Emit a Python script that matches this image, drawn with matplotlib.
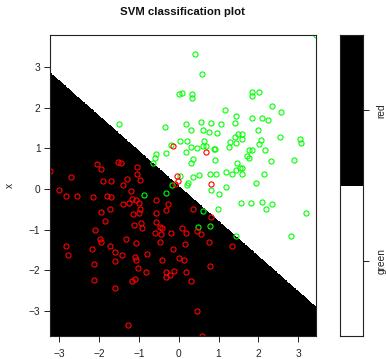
import numpy as np
import matplotlib
matplotlib.use("Agg")
import matplotlib.pyplot as plt
from matplotlib.colors import ListedColormap

plt.rcParams["font.family"] = ["Liberation Sans", "DejaVu Sans"]

# Observations: horizontal axis holds feature "y", vertical axis feature "x"
green_y = [0.40, 0.59, 0.00, 0.08, 0.34, 0.34, 1.85, 1.84, 2.02, 2.34,
           2.56, 1.17, 1.45, 1.83, 2.09, 2.24, -0.35, 0.18, 0.31, 0.55,
           0.61, 0.82, 0.76, 0.96, 1.07, 1.41, 2.00, 1.50, 1.60, 2.54,
           1.41, 1.59, 1.43, 1.29, 1.27, 3.04, 3.08, 2.07, 2.02, 2.17,
           1.76, 1.83, 1.72, 1.77, 2.33, 2.90, 1.47, 1.45, 1.54, 1.59,
           1.34, 1.59, 2.15, 1.95, 1.57, 1.82, 2.10, 2.20, 2.34, 3.20,
           1.44, 2.81, -1.50, 0.03, 0.21, 0.30, 0.46, 0.61, 0.63, 0.68,
           0.89, 0.92, -0.20, -0.33, -0.57, -0.59, -0.65, 0.18, 0.31, 0.37,
           0.91, 0.50, 0.35, 0.23, 0.21, 0.03, 0.78, 0.94, 1.18, 0.82,
           1.01, 1.18, 0.99, -0.88, -0.31, -0.16, 0.61, 0.49, 0.78, 3.45]
green_x = [3.33, 2.83, 2.34, 2.36, 2.34, 2.24, 2.39, 2.28, 2.39, 2.04,
           1.90, 1.95, 1.80, 1.75, 1.75, 1.70, 1.53, 1.60, 1.45, 1.65,
           1.45, 1.63, 1.40, 1.38, 1.60, 1.63, 1.45, 1.35, 1.35, 1.28,
           1.28, 1.23, 1.13, 1.16, 1.03, 1.23, 1.13, 1.21, 1.11, 0.96,
           0.96, 0.96, 0.82, 0.76, 0.69, 0.72, 0.64, 0.47, 0.51, 0.52,
           0.37, 0.37, 0.37, 0.15, -0.34, -0.34, -0.32, -0.49, -0.37, -0.59,
           -1.16, -1.16, 1.60, 1.19, 1.19, 1.03, 1.01, 1.06, 1.18, 1.07,
           0.99, 0.99, 1.09, 0.89, 0.86, 0.76, 0.64, 0.91, 0.64, 0.73,
           0.72, 0.34, 0.29, 0.15, 0.10, 0.33, 0.37, 0.37, 0.41, -0.02,
           -0.12, 0.06, -0.49, -0.15, -0.10, 0.09, -0.54, -0.94, -0.91, 3.79]

red_y = [-3.23, -2.72, -2.06, -1.96, -1.53, -1.46, -1.04, -1.04, -0.97, -1.30,
         -1.40, -1.20, -1.91, -1.71, -3.00, -2.84, -2.57, -2.16, -1.80, -1.71,
         -1.40, -1.26, -1.17, -1.08, -1.00, -0.97, -1.14, -1.00, -1.74, -1.95,
         -1.85, -2.11, -1.13, -0.96, -0.92, -0.58, -0.26, -0.32, -0.57, -0.58,
         -0.47, -0.41, 0.09, 0.36, 0.82, 0.81, -0.04, -0.01, -0.10, -0.14,
         0.69, -0.61, -0.44, -0.20, 0.18, 0.47, 0.55, -0.47, 0.16, 0.76,
         1.33, -0.14, -0.41, 0.01, 0.13, 0.78, -0.33, -0.33, -0.21, -0.13,
         0.19, 0.31, 0.47, 0.59, -1.97, -1.95, -2.84, -2.78, -2.18, -1.73,
         -1.32, -1.07, -1.60, -1.42, -1.10, -1.07, -0.81, -2.13, -1.60, -1.03,
         -0.83, -2.12, -1.09, -1.18, -1.61, -1.28]
red_x = [0.45, 0.30, 0.61, 0.49, 0.66, 0.64, 0.54, 0.37, 0.23, 0.25,
         0.10, -0.05, 0.19, 0.19, -0.02, -0.17, -0.17, -0.20, -0.17, -0.20,
         -0.36, -0.34, -0.24, -0.26, -0.34, -0.49, -0.61, -0.59, -0.49, -0.56,
         -0.78, -1.00, -0.88, -0.84, -0.95, -0.28, -0.37, -0.51, -0.59, -0.81,
         -0.94, -0.95, -0.96, -0.49, -0.69, 0.12, 0.33, 0.21, 0.13, 1.06,
         0.91, -1.08, -1.11, -1.08, -1.08, -1.03, -1.11, -1.31, -1.36, -1.30,
         -1.40, -1.48, -1.75, -1.70, -1.75, -1.90, -2.04, -2.15, -2.12, -2.02,
         -2.04, -2.27, -3.00, -3.60, -1.23, -1.29, -1.40, -1.63, -1.48, -1.40,
         -1.23, -1.33, -1.55, -1.63, -1.67, -1.75, -1.60, -1.83, -1.77, -1.95,
         -2.04, -2.24, -2.21, -2.27, -2.42, -3.33]

classes = ["green", "red"]
point_colors = ["#00ff00", "#ff0000"]
region_colors = ["white", "black"]

# Linear decision function: f = coef_y*y + coef_x*x + intercept, f < 0 -> red
coef_y = 0.862
coef_x = 1.0
intercept = -0.064

all_y = np.array(green_y + red_y)
all_x = np.array(green_x + red_x)
ylim = (all_y.min(), all_y.max())
xlim = (all_x.min(), all_x.max())

W, H = 386, 359
fig = plt.figure(figsize=(W / 100, H / 100), dpi=100)
ax = fig.add_axes([50.3 / W, 1 - 335.5 / H, (316 - 50.3) / W, (335.5 - 35) / H])
ax_key = fig.add_axes([339.5 / W, 1 - 336 / H, (363.3 - 339.5) / W, (336 - 35) / H])

# classification regions
gy = np.linspace(ylim[0], ylim[1], 400)
gx = np.linspace(xlim[0], xlim[1], 400)
GY, GX = np.meshgrid(gy, gx)
F = coef_y * GY + coef_x * GX + intercept
region = np.where(F < 0, 1, 0)
ax.contourf(GY, GX, region, levels=[-0.5, 0.5, 1.5],
            colors=region_colors, antialiased=False)

ax.plot(green_y, green_x, linestyle="none", marker="o", ms=3.7,
        mfc="none", mec=point_colors[0], mew=0.8, clip_on=True)
ax.plot(red_y, red_x, linestyle="none", marker="o", ms=3.7,
        mfc="none", mec=point_colors[1], mew=0.8, clip_on=True)

ax.set_xlim(*ylim)
ax.set_ylim(*xlim)
ax.set_xticks([-3, -2, -1, 0, 1, 2, 3])
ax.set_yticks([-3, -2, -1, 0, 1, 2, 3])
for s in ax.spines.values():
    s.set_linewidth(0.8)
    s.set_color("#222222")
ax.tick_params(axis="both", direction="out", length=4.3, width=0.7,
               labelsize=7.3, colors="#222222", labelcolor="#222222")
ax.tick_params(axis="x", pad=5.5)
ax.tick_params(axis="y", pad=2.8)

# colour key
ax_key.pcolormesh([0, 1], [1, 2, 3], np.array([[0], [1]]),
                  cmap=ListedColormap(region_colors), vmin=-0.5, vmax=1.5)
ax_key.set_xlim(0, 1)
ax_key.set_ylim(1, 3)
ax_key.set_xticks([])
ax_key.yaxis.tick_right()
ax_key.set_yticks([1.5, 2.5])
ax_key.set_yticklabels(classes, rotation=90, va="center")
ax_key.tick_params(axis="y", direction="out", length=4.3, width=0.7,
                   labelsize=7.3, pad=5, colors="#222222")
for s in ax_key.spines.values():
    s.set_linewidth(0.8)
    s.set_color("#222222")

fig.text(183 / W, 1 - 12 / H, "SVM classification plot", ha="center",
         va="center", fontsize=8.2, fontweight="bold", color="#111111")
fig.text(10 / W, 1 - 185 / H, "x", rotation=90, ha="center", va="center",
         fontsize=7.3, color="#222222")

fig.savefig("out.png", dpi=100, facecolor="white")
